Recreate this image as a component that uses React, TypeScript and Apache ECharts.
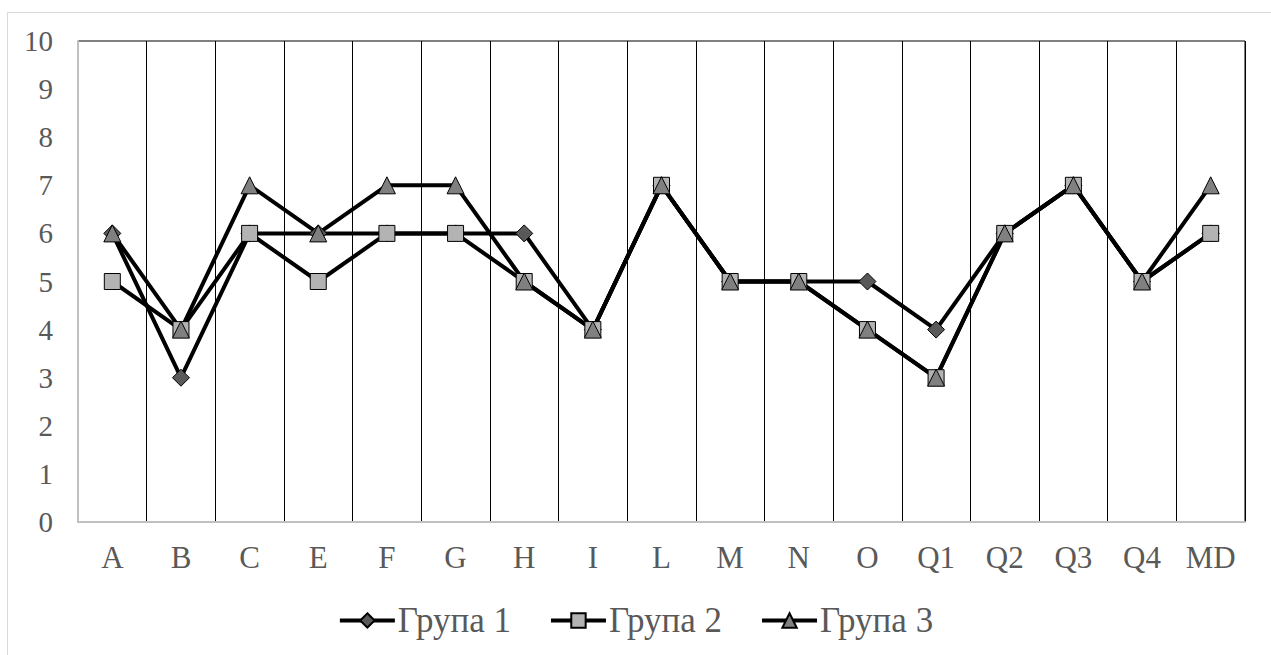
import React, { useEffect, useRef } from "react";
import * as echarts from "echarts";

const categories = ["A", "B", "C", "E", "F", "G", "H", "I", "L", "M", "N", "O", "Q1", "Q2", "Q3", "Q4", "MD"];
const group1 = [6, 3, 6, 6, 6, 6, 6, 4, 7, 5, 5, 5, 4, 6, 7, 5, 6];
const group2 = [5, 4, 6, 5, 6, 6, 5, 4, 7, 5, 5, 4, 3, 6, 7, 5, 6];
const group3 = [6, 4, 7, 6, 7, 7, 5, 4, 7, 5, 5, 4, 3, 6, 7, 5, 7];
const seriesNames = ["Група 1", "Група 2", "Група 3"];

const FONT = "Liberation Serif";
const TEXT = "#595959";

export default function App() {
  const ref = useRef<HTMLDivElement>(null);
  useEffect(() => {
    if (!ref.current) return;
    const chart = echarts.init(ref.current, undefined, { renderer: "svg" });
    const mk = (name: string, data: number[], symbol: string, fill: string, size: number) => ({
      name,
      type: "line",
      data,
      symbol,
      symbolSize: size,
      showAllSymbol: true,
      lineStyle: { color: "#000", width: 4 },
      itemStyle: { color: fill, borderColor: "#000", borderWidth: 1 },
      emphasis: { disabled: true },
    });
    chart.setOption({
      animation: false,
      textStyle: { fontFamily: FONT },
      graphic: [
        {
          type: "rect",
          shape: { x: 7.5, y: 12.5, width: 1300, height: 700 },
          style: { fill: "none", stroke: "#d9d9d9", lineWidth: 1 },
          z: -10,
        },
      ],
      grid: {
        left: 78,
        right: 26,
        top: 41,
        bottom: 133,
        show: true,
        borderColor: "#000",
        borderWidth: 1,
        z: 0,
      },
      legend: {
        left: "center",
        top: 598,
        itemWidth: 55,
        itemHeight: 18,
        itemGap: 38,
        lineStyle: { width: 4, color: "#000" },
        textStyle: { fontFamily: FONT, fontSize: 35, color: TEXT, padding: [0, 0, 0, -2] },
        data: seriesNames,
      },
      xAxis: {
        type: "category",
        data: categories,
        boundaryGap: true,
        z: 4,
        axisLine: { show: true, lineStyle: { color: "#c0c0c0", width: 2 } },
        axisTick: { show: false },
        axisLabel: { fontFamily: FONT, fontSize: 31, color: TEXT, margin: 20 },
        splitLine: { show: true, lineStyle: { color: "#000", width: 1 } },
      },
      yAxis: {
        type: "value",
        min: 0,
        max: 10,
        interval: 1,
        z: 6,
        axisLine: { show: true, lineStyle: { color: "#c0c0c0", width: 2 } },
        axisTick: { show: false },
        axisLabel: { fontFamily: FONT, fontSize: 29, color: TEXT, margin: 25 },
        splitLine: { show: false },
      },
      series: [
        mk(seriesNames[0], group1, "diamond", "#595959", 17),
        mk(seriesNames[1], group2, "rect", "#b3b3b3", 16),
        mk(seriesNames[2], group3, "triangle", "#808080", 17),
      ],
    });
    return () => chart.dispose();
  }, []);
  return (
    <div
      ref={ref}
      style={{ position: "fixed", left: 0, top: 0, width: 1271, height: 655, background: "#fff" }}
    />
  );
}
